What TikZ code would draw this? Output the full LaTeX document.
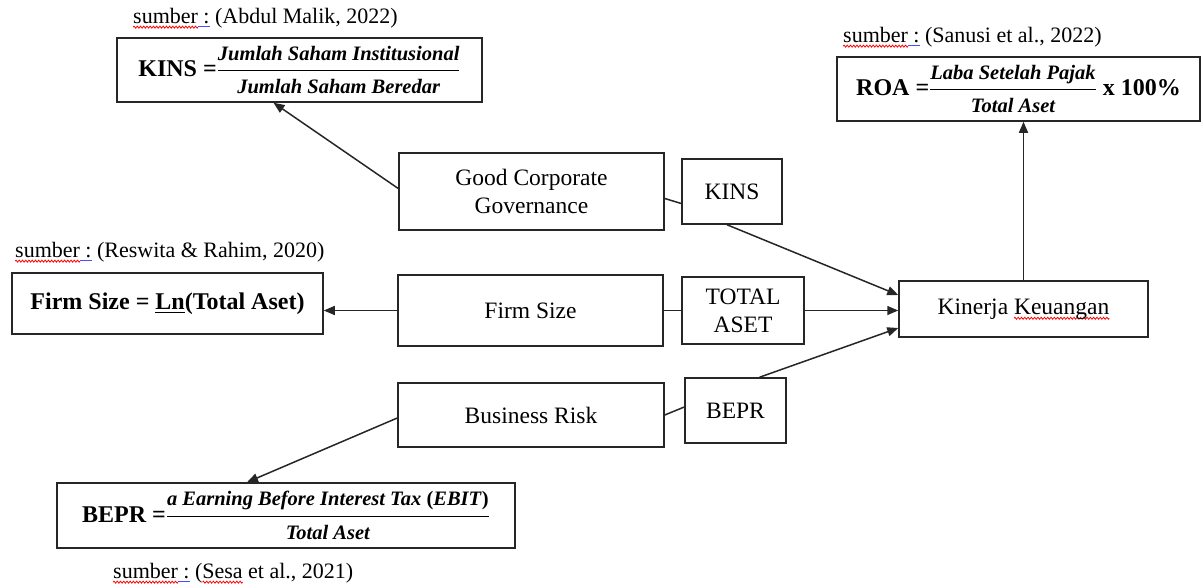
\documentclass[tikz,border=0pt]{standalone}
\usepackage{amsmath}
\usepackage{fontspec}
\setmainfont{Liberation Serif}
\usetikzlibrary{arrows.meta, positioning}

\newsavebox{\wavebox}
\newcommand{\wavy}[1]{\setbox0\hbox{#1}\rlap{\raisebox{-5pt}{\hbox to \wd0{\xleaders\copy\wavebox\hfill}}}\box0\relax}
\newcommand{\blueline}[1]{\setbox0\hbox{#1}\rlap{\color{blue!70}\rule[-4pt]{\wd0}{0.9pt}}\box0\relax}
\newcommand{\formfrac}[2]{$\genfrac{}{}{1.2pt}{0}{\mbox{\fontsize{20.5}{22}\selectfont\bfseries\itshape #1}}{\mbox{\fontsize{20.5}{22}\selectfont\bfseries\itshape #2}}$}

\begin{document}
\sbox{\wavebox}{\begin{pgfpicture}%
  \pgfsetlinewidth{0.8pt}\pgfsetstrokecolor{red}%
  \pgfpathmoveto{\pgfpoint{0pt}{0pt}}%
  \pgfpathsine{\pgfpoint{0.8pt}{1pt}}%
  \pgfpathcosine{\pgfpoint{0.8pt}{-1pt}}%
  \pgfpathsine{\pgfpoint{0.8pt}{-1pt}}%
  \pgfpathcosine{\pgfpoint{0.8pt}{1pt}}%
  \pgfusepath{stroke}%
  \pgfresetboundingbox
  \pgfpathrectangle{\pgfpoint{0pt}{-1pt}}{\pgfpoint{3.2pt}{2pt}}%
  \pgfusepath{use as bounding box}%
\end{pgfpicture}}%
\begin{tikzpicture}[
    x=1pt, y=-1pt,
    var/.style={rectangle, draw=black!85, line width=1.5pt, align=center, inner sep=0pt, font=\fontsize{23.5}{28}\selectfont},
    formula/.style={rectangle, draw=black!85, line width=1.5pt, inner sep=0pt, font=\fontsize{24}{28}\selectfont\bfseries},
    source/.style={anchor=west, inner sep=0pt, font=\fontsize{22}{26}\selectfont},
    link/.style={draw=black!85, line width=1.5pt},
    >={Triangle[length=11pt, width=9pt]}
]
\useasboundingbox (0,0) rectangle (1201,587);

% Variables
\node[var, minimum width=265pt, minimum height=77pt] (gcg) at (531.5,191.5) {Good Corporate\\Governance};
\node[var, minimum width=265pt, minimum height=71pt] (size) at (530.5,310.5) {Firm Size};
\node[var, minimum width=266pt, minimum height=64pt] (risk) at (531,415) {Business Risk};
\node[var, minimum width=249pt, minimum height=56pt] (kinerja) at (1023.5,309) {Kinerja \wavy{Keuangan}};

% Indicators
\node[var, minimum width=100pt, minimum height=65pt] (kins) at (732,191.5) {KINS};
\node[var, minimum width=122pt, minimum height=67pt] (aset) at (743,310.5) {TOTAL\\ASET};
\node[var, minimum width=101pt, minimum height=65pt] (bepr) at (735.5,410.5) {BEPR};

% Formulas
\node[formula, minimum width=365pt, minimum height=64pt] (kinsf) at (299.5,70) {KINS =\formfrac{Jumlah Saham Institusional}{Jumlah Saham Beredar}};
\node[formula, minimum width=363pt, minimum height=64pt] (roaf) at (1018.5,89) {ROA =\formfrac{Laba Setelah Pajak}{Total Aset} x 100\%};
\node[formula, minimum width=311pt, minimum height=61pt] (sizef) at (167.5,303.5) {Firm Size = \underline{Ln}(Total Aset)};
\node[formula, minimum width=458pt, minimum height=65pt] (beprf) at (286,515.5) {BEPR =\formfrac{a Earning Before Interest Tax \textup{(}EBIT\textup{)}}{Total Aset}};

% Sources
\node[source] (srckins) at (133,18) {\wavy{sumber}\blueline{\ :} (Abdul Malik, 2022)};
\node[source] (srcroa) at (843,37) {\wavy{sumber}\blueline{\ :} (Sanusi et al., 2022)};
\node[source] (srcsize) at (15,252) {\wavy{sumber}\blueline{\ :} (Reswita \& Rahim, 2020)};
\node[source] (srcbepr) at (113,573) {\wavy{sumber}\blueline{\ :} (\wavy{Sesa} et al., 2021)};

% Variable to indicator
\draw[link] ([yshift=-7pt]gcg.east) -- ([yshift=-12pt]kins.west);
\draw[link] (size.east) -- (size.east -| aset.west);
\draw[link] (risk.east) -- ([yshift=3.5pt]bepr.west);

% Indicator to performance
\draw[link, ->] ([xshift=-5pt]kins.south) -- ([yshift=14pt]kinerja.west);
\draw[link, ->] (aset.east) -- (aset.east -| kinerja.west);
\draw[link, ->] ([xshift=24pt]bepr.north) -- ([yshift=-19pt]kinerja.west);

% Variable to formula
\draw[link, ->] ([yshift=3pt]gcg.west) -- ([xshift=-26pt]kinsf.south);
\draw[link, ->] (size.west) -- (size.west -| sizef.east);
\draw[link, ->] ([yshift=-3pt]risk.west) -- ([xshift=-39pt]beprf.north);
\draw[link, ->] (kinerja.north) -- (kinerja.north |- roaf.south);

\end{tikzpicture}
\end{document}
